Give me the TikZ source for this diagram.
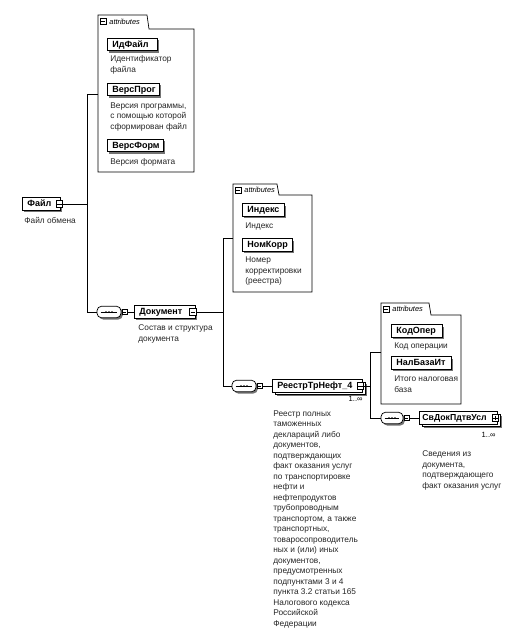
\documentclass[tikz,border=0pt]{standalone}
\usepackage{fontspec}
\setmainfont{Liberation Sans}
\usetikzlibrary{shadows}
\begin{document}
\begin{tikzpicture}[x=1pt,y=-1pt,
  line width=0.8pt,
  shd/.style={drop shadow={shadow xshift=1.8pt,shadow yshift=-1.8pt,fill=black!55,opacity=1}},
  elem/.style={draw,fill=white,shd,anchor=west,inner xsep=5pt,inner ysep=0pt,
    minimum height=12.5pt,text height=6.8pt,text depth=1.6pt,align=left,
    text width=#1,font=\bfseries\fontsize{9}{10}\selectfont},
  multielem/.style={draw,fill=white,anchor=west,inner xsep=5pt,inner ysep=0pt,
    minimum height=12.5pt,text height=6.8pt,text depth=1.6pt,align=left,
    drop shadow={shadow xshift=4.2pt,shadow yshift=-4.2pt,fill=black!55,opacity=1},
    copy shadow={shadow xshift=2.6pt,shadow yshift=-2.6pt},
    text width=#1,font=\bfseries\fontsize{9}{10}\selectfont},
  desc/.style={anchor=north west,inner sep=0pt,align=left,text=black!85,
    font=\fontsize{8.3}{10.5}\selectfont},
  btn/.style={draw,fill=white,line width=0.6pt,minimum size=6.5pt,inner sep=0pt},
  sbtn/.style={draw,fill=white,line width=0.6pt,minimum size=5pt,inner sep=0pt},
  seq/.style={draw,fill=white,shd,line width=0.7pt,minimum width=#1,minimum height=11.5pt,
    rounded corners=4.5pt,inner sep=0pt},
  tabtxt/.style={anchor=west,inner sep=0pt,font=\itshape\fontsize{7.4}{8}\selectfont},
  occ/.style={anchor=east,inner sep=0pt,font=\fontsize{7.6}{8}\selectfont},
  abox/.style={draw,line width=0.7pt,fill=white}
]
\useasboundingbox[fill=white] (0,0) rectangle (515,632);

% ---------- attribute box 1 ----------
\draw[abox] (98,172) -- (98,15) -- (147,15) -- (149,29) -- (194,29) -- (194,172) -- cycle;
\node[sbtn,minimum size=6pt] (t1m) at (103,21.5) {};
\draw[line width=0.5pt] ([xshift=1.2pt]t1m.west) -- ([xshift=-1.2pt]t1m.east);
\node[tabtxt] (t1) at (109,21.5) {attributes};
\node[elem=40pt] (idf) at (107,44.5) {ИдФайл};
\node[desc] (idfd) at (110,55.5) {Идентификатор\\файла};
\node[elem=42pt] (vp) at (107,89.5) {ВерсПрог};
\node[desc] (vpd) at (110,102) {Версия программы,\\с помощью которой\\сформирован файл};
\node[elem=46pt] (vf) at (107,145.5) {ВерсФорм};
\node[desc] (vfd) at (110,158.5) {Версия формата};

% ---------- root ----------
\node[elem=28pt] (fayl) at (22,204) {Файл};
\node[btn] (fb) at ([xshift=-1.5pt]fayl.east) {};
\draw[line width=0.6pt] ([xshift=1.3pt]fb.west) -- ([xshift=-1.3pt]fb.east);
\node[desc] (fayld) at (24,216.5) {Файл обмена};

\coordinate (att1) at (98,94);
\coordinate (j1top) at (87,94);
\coordinate (j1) at (87,204);
\coordinate (j1bot) at (87,312);
\draw (fb.east) -- (j1);

% sequence 1
\node[seq=24pt] (q1) at (109,312) {};
\draw[line width=0.6pt] ([xshift=4pt]q1.west) -- ([xshift=-4pt]q1.east);
\foreach \d in {-3,0,3} \fill ([xshift=\d pt]q1.center) circle (0.9pt);
\node[sbtn] (q1b) at ([xshift=3pt]q1.east) {};
\draw[line width=0.5pt] ([xshift=1pt]q1b.west) -- ([xshift=-1pt]q1b.east);
\draw (att1) -- (j1top) -- (j1bot) -- (q1.west);

% ---------- Документ ----------
\node[elem=51pt] (doc) at (134,312) {Документ};
\node[btn] (db) at ([xshift=-3pt]doc.east) {};
\draw[line width=0.6pt] ([xshift=1.3pt]db.west) -- ([xshift=-1.3pt]db.east);
\draw (q1b.east) -- (doc.west);
\node[desc] (docd) at (138,324.5) {Состав и структура\\документа};

% attribute box 2
\draw[abox] (233,292) -- (233,184) -- (277,184) -- (279,195) -- (312,195) -- (312,292) -- cycle;
\node[sbtn,minimum size=6pt] (t2m) at (238,190) {};
\draw[line width=0.5pt] ([xshift=1.2pt]t2m.west) -- ([xshift=-1.2pt]t2m.east);
\node[tabtxt] (t2) at (244,190) {attributes};
\node[elem=32pt] (ind) at (242,210) {Индекс};
\node[desc] (indd) at (245,222.5) {Индекс};
\node[elem=40pt] (nk) at (242,245) {НомКорр};
\node[desc] (nkd) at (245,256.5) {Номер\\корректировки\\(реестра)};

\coordinate (j2) at (223,312);
\coordinate (att2) at (233,238);
\coordinate (j2top) at (223,238);
\coordinate (j2bot) at (223,386);
\draw (db.east) -- (j2);

% sequence 2
\node[seq=24pt] (q2) at (244,386) {};
\draw[line width=0.6pt] ([xshift=4pt]q2.west) -- ([xshift=-4pt]q2.east);
\foreach \d in {-3,0,3} \fill ([xshift=\d pt]q2.center) circle (0.9pt);
\node[sbtn] (q2b) at ([xshift=3pt]q2.east) {};
\draw[line width=0.5pt] ([xshift=1pt]q2b.west) -- ([xshift=-1pt]q2b.east);
\draw (att2) -- (j2top) -- (j2bot) -- (q2.west);

% ---------- РеестрТрНефт_4 ----------
\node[multielem=80pt] (reestr) at (272,386) {РеестрТрНефт\_4};
\node[btn] (rb) at ([xshift=-2.5pt]reestr.east) {};
\draw[line width=0.6pt] ([xshift=1.3pt]rb.west) -- ([xshift=-1.3pt]rb.east);
\draw (q2b.east) -- (reestr.west);
\node[occ] (ro) at (363,398.5) {1..∞};
\node[desc] (rd) at (273,410.3) {Реестр полных\\таможенных\\деклараций либо\\документов,\\подтверждающих\\факт оказания услуг\\по транспортировке\\нефти и\\нефтепродуктов\\трубопроводным\\транспортом, а также\\транспортных,\\товаросопроводитель\\ных и (или) иных\\документов,\\предусмотренных\\подпунктами 3 и 4\\пункта 3.2 статьи 165\\Налогового кодекса\\Российской\\Федерации};

% attribute box 3
\draw[abox] (381,404) -- (381,303) -- (429,303) -- (431,315) -- (461,315) -- (461,404) -- cycle;
\node[sbtn,minimum size=6pt] (t3m) at (386,309) {};
\draw[line width=0.5pt] ([xshift=1.2pt]t3m.west) -- ([xshift=-1.2pt]t3m.east);
\node[tabtxt] (t3) at (392,309) {attributes};
\node[elem=41pt] (ko) at (391,331) {КодОпер};
\node[desc] (kod) at (394,342.5) {Код операции};
\node[elem=50pt] (nb) at (391,363) {НалБазаИт};
\node[desc] (nbd) at (394,375.5) {Итого налоговая\\база};

\coordinate (j3) at (370,386);
\coordinate (att3) at (381,352);
\coordinate (j3top) at (370,352);
\coordinate (j3bot) at (370,418);
\draw (rb.east) -- (j3);

% sequence 3
\node[seq=22pt] (q3) at (392,418) {};
\draw[line width=0.6pt] ([xshift=4pt]q3.west) -- ([xshift=-4pt]q3.east);
\foreach \d in {-3,0,3} \fill ([xshift=\d pt]q3.center) circle (0.9pt);
\node[sbtn] (q3b) at ([xshift=3pt]q3.east) {};
\draw[line width=0.5pt] ([xshift=1pt]q3b.west) -- ([xshift=-1pt]q3b.east);
\draw (att3) -- (j3top) -- (j3bot) -- (q3.west);

% ---------- СвДокПдтвУсл ----------
\node[multielem=72pt,inner xsep=3pt,font=\bfseries\fontsize{8.7}{10}\selectfont] (svd) at (419,418) {СвДокПдтвУсл};
\node[btn] (sb) at ([xshift=-2.5pt]svd.east) {};
\draw[line width=0.6pt] ([xshift=1.3pt]sb.west) -- ([xshift=-1.3pt]sb.east);
\draw[line width=0.6pt] ([yshift=1.3pt]sb.south) -- ([yshift=-1.3pt]sb.north);
\draw (q3b.east) -- (svd.west);
\node[occ] (so) at (496,435) {1..∞};
\node[desc] (svdd) at (422,450.5) {Сведения из\\документа,\\подтверждающего\\факт оказания услуг};
\end{tikzpicture}
\end{document}
